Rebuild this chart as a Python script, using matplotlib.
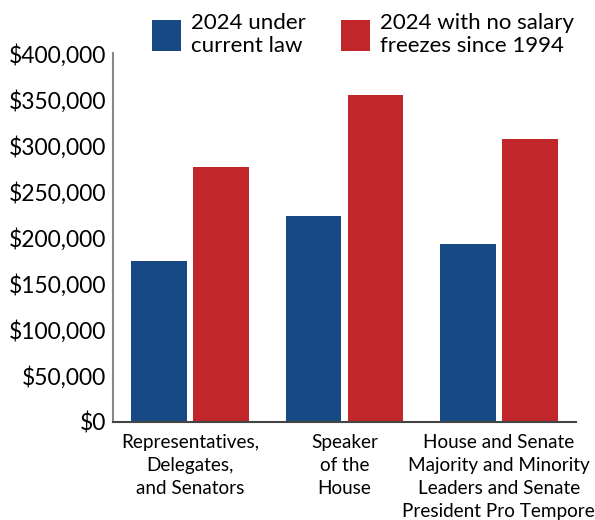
import numpy as np
import matplotlib.pyplot as plt

categories = ['Representatives,\nDelegates,\nand Senators',
              'Speaker\nof the\nHouse',
              'House and Senate\nMajority and Minority\nLeaders and Senate\nPresident Pro Tempore']
current_law = [174000, 223500, 193400]
no_freezes = [276000, 354000, 306500]
series_names = ['2024 under\ncurrent law', '2024 with no salary\nfreezes since 1994']
yticks = np.arange(0, 400001, 50000)

BLUE = '#174a84'
RED = '#c1272a'

plt.rcParams['font.family'] = ['Lato', 'DejaVu Sans']

fig = plt.figure(figsize=(5.95, 5.2), dpi=100)
ax = fig.add_axes([0.19, 0.1885, 0.778, 0.7095])

x = np.arange(len(categories))
w = 0.361
b1 = ax.bar(x - 0.2, current_law, w, color=BLUE, label=series_names[0])
b2 = ax.bar(x + 0.2, no_freezes, w, color=RED, label=series_names[1])

ax.set_xlim(-0.5, 2.5)
ax.set_ylim(0, 400000)
ax.set_yticks(yticks)
ax.set_yticklabels(['${:,}'.format(v) for v in yticks], fontsize=16.5)
ax.set_xticks(x)
ax.set_xticklabels(categories, fontsize=13.6, linespacing=1.42)
ax.tick_params(axis='both', length=0)
ax.tick_params(axis='y', pad=5)
ax.tick_params(axis='x', pad=9)

for s in ['top', 'right']:
    ax.spines[s].set_visible(False)
ax.spines['left'].set_color('#888888')
ax.spines['left'].set_linewidth(1.5)
ax.spines['bottom'].set_color('#444444')
ax.spines['bottom'].set_linewidth(1.5)

fig.legend(handles=[b1, b2], loc='upper left', bbox_to_anchor=(0.255, 0.975),
           ncol=2, frameon=False, fontsize=16, handlelength=1.3, handleheight=1.8,
           handletextpad=0.45, columnspacing=1.6, borderaxespad=0, borderpad=0,
           labelspacing=0.2)

plt.savefig('out.png', dpi=100)
